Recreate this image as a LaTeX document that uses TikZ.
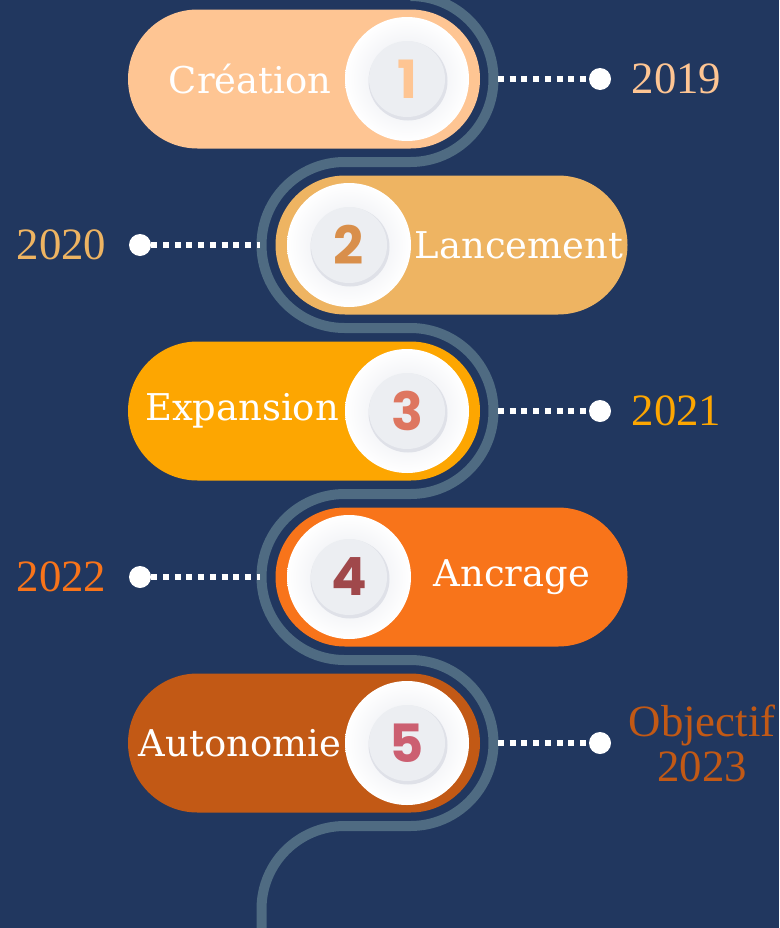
\documentclass[tikz,border=0pt]{standalone}
\usepackage{fontspec}
\setmainfont{DejaVu Serif}
\newfontfamily\anneefont{Liberation Serif}
\newfontfamily\chiffrefont{Poppins}
\usetikzlibrary{positioning}

\definecolor{fond}{HTML}{21375F}
\definecolor{serpent}{HTML}{4F6B82}
\definecolor{peche}{HTML}{FEC593}
\definecolor{sable}{HTML}{EEB462}
\definecolor{ambre}{HTML}{FDA601}
\definecolor{orange}{HTML}{F8741A}
\definecolor{rouille}{HTML}{C25915}
\definecolor{num2}{HTML}{D98F4B}
\definecolor{num3}{HTML}{DE7660}
\definecolor{num4}{HTML}{A0484B}
\definecolor{num5}{HTML}{CC5F71}
\definecolor{grisdisque}{HTML}{E4E6ED}
\definecolor{ombre}{HTML}{DFE1E8}
\definecolor{centre}{HTML}{ECEEF2}

\tikzset{
  pilule/.style={rounded corners=1.39cm,minimum width=7.04cm,minimum height=2.78cm,inner sep=0pt},
  titre/.style={text=white,inner sep=0pt,font=\fontsize{21}{24}\selectfont},
  annee/.style={inner sep=0pt,align=center,font=\anneefont\fontsize{25.5}{25.6}\selectfont},
  chiffre/.style={inner sep=0pt,font=\chiffrefont\bfseries\fontsize{30}{30}\selectfont},
  point/.style={circle,fill=white,minimum size=0.44cm,inner sep=0pt},
  pointille/.style={white,line width=0.12cm,dash pattern=on 0.12cm off 0.114cm},
  chemin/.style={color=serpent,line width=0.2cm},
  disque/.pic={
    \shade[inner color=grisdisque,outer color=white] (0,0) circle (1.24) ;
    \fill[ombre] (0.02,-0.04) circle (0.79) ;
    \fill[centre] (0,0) circle (0.76) ;
  }
}

\begin{document}
\begin{tikzpicture}
        \fill[fond] (0,0) rectangle (15.58,-18.56) ;
        \clip (0,0) rectangle (15.58,-18.56) ;
        % le chemin
        \draw[chemin] (8.21,0.08) arc[start angle=90,end angle=-90,radius=1.66]
        -- (6.89,-3.24) arc[start angle=90,end angle=270,radius=1.66]
        -- (8.21,-6.56) arc[start angle=90,end angle=-90,radius=1.66]
        -- (6.89,-9.88) arc[start angle=90,end angle=270,radius=1.66]
        -- (8.21,-13.20) arc[start angle=90,end angle=-90,radius=1.66]
        -- (6.89,-16.52) arc[start angle=90,end angle=180,radius=1.66]
        -- (5.23,-18.8) ;
        % les etapes
        \node[pilule,fill=peche] (etape1) at (6.08,-1.58) {} ;
        \node[pilule,fill=sable] (etape2) at (9.03,-4.90) {} ;
        \node[pilule,fill=ambre] (etape3) at (6.08,-8.22) {} ;
        \node[pilule,fill=orange] (etape4) at (9.03,-11.54) {} ;
        \node[pilule,fill=rouille] (etape5) at (6.08,-14.86) {} ;
        \pic at (8.14,-1.58) {disque} ;
        \pic at (6.98,-4.90) {disque} ;
        \pic at (8.14,-8.22) {disque} ;
        \pic at (6.98,-11.54) {disque} ;
        \pic at (8.14,-14.86) {disque} ;
        \node[chiffre,text=peche] (num1) at (8.14,-1.58) {1} ;
        \node[chiffre,text=num2] (num2) at (6.98,-4.90) {2} ;
        \node[chiffre,text=num3] (num3) at (8.14,-8.22) {3} ;
        \node[chiffre,text=num4] (num4) at (6.98,-11.54) {4} ;
        \node[chiffre,text=num5] (num5) at (8.14,-14.86) {5} ;
        \node[titre] (titre1) at (5.00,-1.58) {Création} ;
        \node[titre] (titre2) at (10.38,-4.90) {Lancement} ;
        \node[titre] (titre3) at (4.84,-8.22) {Expansion} ;
        \node[titre] (titre4) at (10.24,-11.54) {Ancrage} ;
        \node[titre] (titre5) at (4.80,-14.86) {Autonomie} ;
        % les annees
        \node[point] (point1) at (12.00,-1.58) {} ;
        \node[point] (point2) at (2.80,-4.90) {} ;
        \node[point] (point3) at (12.00,-8.22) {} ;
        \node[point] (point4) at (2.80,-11.54) {} ;
        \node[point] (point5) at (12.00,-14.86) {} ;
        \coordinate (bord1) at (9.96,-1.58) ;
        \coordinate (bord2) at (5.20,-4.90) ;
        \coordinate (bord3) at (9.96,-8.22) ;
        \coordinate (bord4) at (5.20,-11.54) ;
        \coordinate (bord5) at (9.96,-14.86) ;
        \draw[pointille] (bord1) -- (point1) ;
        \draw[pointille] (point2) -- (bord2) ;
        \draw[pointille] (bord3) -- (point3) ;
        \draw[pointille] (point4) -- (bord4) ;
        \draw[pointille] (bord5) -- (point5) ;
        \node[annee,text=peche,right=0.40cm of point1] (annee1) {2019} ;
        \node[annee,text=sable,left=0.44cm of point2] (annee2) {2020} ;
        \node[annee,text=ambre,right=0.40cm of point3] (annee3) {2021} ;
        \node[annee,text=orange,left=0.44cm of point4] (annee4) {2022} ;
        \node[annee,text=rouille,right=0.34cm of point5] (annee5) {Objectif\\2023} ;
\end{tikzpicture}
\end{document}
